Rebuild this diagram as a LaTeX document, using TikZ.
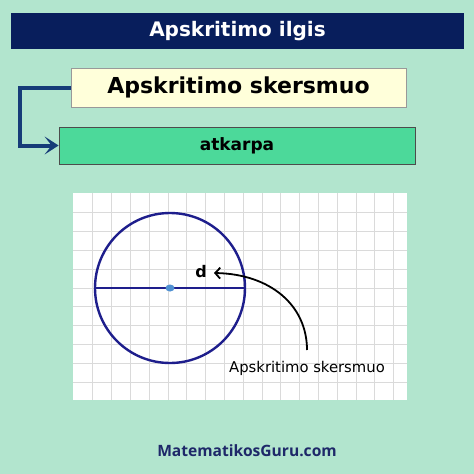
\documentclass[tikz,border=0pt]{standalone}
\usepackage{fontspec}
\setmainfont{DejaVu Sans}
\newfontfamily\osfont{Open Sans}
\usetikzlibrary{arrows.meta,shapes.geometric}
\definecolor{bgc}{RGB}{178,229,206}
\definecolor{navy}{RGB}{8,30,92}
\definecolor{yel}{RGB}{255,255,218}
\definecolor{grn}{RGB}{76,217,154}
\definecolor{conn}{RGB}{22,60,120}
\definecolor{circc}{RGB}{30,30,140}
\definecolor{dotc}{RGB}{80,145,210}
\definecolor{gridc}{RGB}{218,218,218}
\definecolor{foot}{RGB}{30,40,105}
\tikzset{
  titlebar/.style={fill=navy, text=white, inner sep=0pt, minimum width=453pt, minimum height=36pt, font=\bfseries\fontsize{20}{22}\selectfont},
  yelbox/.style={fill=yel, draw=gray!80, line width=0.8pt, inner sep=0pt, minimum width=335pt, minimum height=39pt, font=\bfseries\fontsize{22}{24}\selectfont},
  grnbox/.style={fill=grn, draw=gray!60!black, line width=0.8pt, inner sep=0pt, minimum width=356pt, minimum height=37pt, font=\bfseries\fontsize{17}{19}\selectfont},
  connline/.style={draw=conn, line width=4pt, -{Stealth[length=14pt,width=18pt,inset=7pt]}},
  gridline/.style={draw=gridc, line width=0.7pt},
  circline/.style={draw=circc, line width=2.4pt},
  callout/.style={draw=black, line width=1.8pt, -{Straight Barb[length=5pt,width=11pt]}}
}
\begin{document}
\begin{tikzpicture}[x=1pt,y=-1pt]
\fill[bgc] (0,0) rectangle (474,474);
\useasboundingbox (0,0) rectangle (474,474);
\node[titlebar] (title) at (237.5,31) {Apskritimo ilgis};
\node[yelbox] (yb) at (238.5,87.5) {Apskritimo skersmuo};
\node[grnbox] (gb) at (237,145.5) {atkarpa};
\draw[connline] (yb.west) -- ++(-51,0) |- (gb.west);
% panel
\fill[white] (73,193) rectangle (407,400);
\foreach \i in {1,...,17} \draw[gridline] (74+\i*18.8,193) -- (74+\i*18.8,400);
\foreach \j in {1,...,10} \draw[gridline] (73,194+\j*18.8) -- (407,194+\j*18.8);
\node[circle, circline, minimum size=150pt, inner sep=0pt] (circ) at (170,288) {};
\draw[circline] (circ.west) -- (circ.east);
\node[ellipse, fill=dotc, minimum width=9pt, minimum height=7pt, inner sep=0pt] (dot) at (circ.center) {};
\node[font=\bfseries\fontsize{16}{18}\selectfont, inner sep=1pt] (d) at (201,272) {d};
\node[font=\fontsize{14.8}{17}\selectfont, inner sep=0pt] (lbl) at (307,368) {Apskritimo skersmuo};
\coordinate (cs) at (307,350);
\coordinate (ce) at (214,273);
\draw[callout] (cs) .. controls (307,305) and (270,274) .. (ce);
\node[font=\osfont\bfseries\fontsize{15.6}{18}\selectfont, text=foot] (footer) at (247,451) {MatematikosGuru.com};
\end{tikzpicture}
\end{document}
